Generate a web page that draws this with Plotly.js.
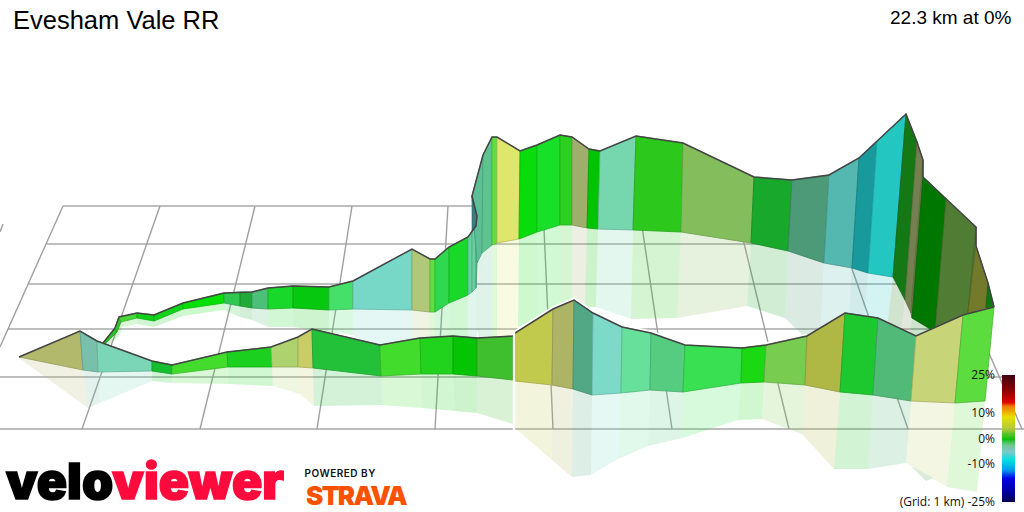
<!DOCTYPE html>
<html><head><meta charset="utf-8">
<script src="https://cdn.plot.ly/plotly-3.0.1.min.js"></script>
<style>html,body{margin:0;padding:0;background:#fff}#c{width:1024px;height:512px}</style></head>
<body><div id="c"></div>
<script>
// Projected route: ridge (elevation), base (ground) and mirror (faded reflection)
const backRidgeX=[103,115,119,137,154,183,224,240,252,268,293,329,353,412,430,435,449,468,472,476,477,472,483,492,497,520,537,560,572,589,600,636,683,754,792,829,859,877,906,917,923,923,946,976,976,988,994];
const backRidgeY=[343,328,317,313,315,303,293,292,292,288,286,287,281,249,259,259,247,237,231,226,216,196,155,137,137,151,145,135,137,149,151,136,143,177,180,175,158,141,114,142,160,177,199,227,246,283,307];
const backBaseX=[105,117,121,137,154,183,224,240,252,268,293,329,353,412,430,435,449,468,472,476,477,477,482,492,497,519,537,560,572,587,598,633,681,751,788,824,852,868,893,905,911,912,935,968,968,986,994];
const backBaseY=[344,332,322,318,321,309,303,306,308,309,308,310,309,310,312,312,303,295,292,288,263,263,253,245,243,239,232,225,225,228,229,230,232,243,251,263,268,273,277,300,313,318,332,313,313,308,307];
const backMirrorX=[108,120,122,137,154,183,224,240,252,268,293,329,353,412,430,434,448,467,472,476,477,477,480,492,497,518,537,560,572,585,596,631,677,747,785,819,845,859,880,893,899,901,924,960,960,984,994];
const backMirrorY=[346,335,327,324,327,316,310,317,320,327,327,332,335,368,365,364,358,352,350,345,330,330,345,350,349,327,319,315,313,307,307,319,318,306,318,351,378,385,388,390,390,390,390,390,390,333,307];
const backColors=['#2cc028','#30c828','#46d838','#10d018','#10d418','#04e004','#2ec850','#20a838','#4cc078','#18d82a','#06c80e','#44e06a','#78d8c8','#b0c878','#60e040','#30d850','#18d828','#66d0a0','#66d0a0','#5cbf98','#5cbf98','#5cbf98','#5ec48e','#60e040','#dee66e','#08dc0a','#18e028','#2cd020','#a0ae6c','#00c400','#76d6ae','#2cc81c','#84be5c','#18a82c','#4c9a78','#54b8b0','#189a9c','#24c6c2','#147814','#748050','#748050','#007800','#507c34','#507c34','#747a2c','#107810'];
const frontRidgeX=[19,80,97,152,172,227,271,298,312,380,420,453,477,513,515,553,574,593,622,651,685,742,766,807,845,878,916,963,994];
const frontRidgeY=[357,331,341,361,365,352,347,337,329,345,338,336,338,336,333,309,300,313,327,333,345,348,345,336,313,318,336,315,307];
const frontBaseX=[19,83,98,152,172,228,272,298,313,381,421,453,477,513,515,552,573,592,621,650,683,741,764,805,840,873,911,955,985];
const frontBaseY=[357,370,372,371,374,367,367,367,368,376,374,374,376,380,381,385,389,395,393,390,392,383,382,385,392,395,401,403,401];
const frontMirrorX=[19,88,100,152,172,229,273,300,314,382,422,455,477,513,515,552,572,591,618,648,682,738,762,802,834,868,906,947,977];
const frontMirrorY=[358,408,403,381,383,384,386,394,406,405,408,411,413,424,428,460,477,475,459,446,438,420,419,434,469,469,463,487,492];
const frontColors=['#b3b96c','#78c0ac','#7ad6b6','#14be2d','#43dc2c','#1bd01f','#aed26e','#c8cd67','#23c03a','#42dc2c','#22d31e','#04c404','#40bf2e','#40bf2e','#c2ca4e','#adb466','#52a884','#7ddac8','#66e09a','#55cc80','#38e052','#1ad812','#78cc50','#b0b845','#1cc82e','#52ba78','#c8d478','#5cdc3e'];
const foldX=[472,477,476,472];
const foldY=[196,216,226,231];
const foldColor='#3a7f80';
const tipX=[911,926,933];
const tipY=[466,481,478];
const tipColor='#007800';
// Ground grid
const gridRows=[206,244,284,329,377];
const gridRowStart=[63,47,28,8,0];
const gridRowEnd=[925,941,958,980,1002];
const groundEdgeY=429;
const gridTopX=[63,160,255,352,448,543,639,735,830,925];
const gridEndX=[0,82,200,317,435,553,672,789,908,1022];
const gridEndY=[347,429,429,429,429,429,429,429,429,429];
const stubX=[3,0], stubY=[224,232];
// Gradient key
const gradeLevels=[-25,-24,-23,-22,-21,-20,-19,-18,-17,-16,-15,-14,-13,-12,-11,-10,-9,-8,-7,-6,-5,-4,-3,-2,-1,0,1,2,3,4,5,6,7,8,9,10,11,12,13,14,15,16,17,18,19,20,21,22,23,24,25];
const gradeTicks=[25,10,0,-10,-25];
const gradeLabels=['25%','10%','0%','-10%','(Grid: 1 km) -25%'];
const gradeScale=[[0,'#000050'],[0.086,'#0000a0'],[0.19,'#0000e8'],[0.26,'#00a0f0'],[0.334,'#00e0e0'],[0.40,'#80c8c8'],[0.452,'#70c890'],[0.5,'#10c010'],[0.58,'#b0c840'],[0.674,'#e8e000'],[0.752,'#f08000'],[0.79,'#e00000'],[0.856,'#a00000'],[1,'#400010']];
const titleText='Evesham Vale RR';
const statText='22.3 km at 0%';

const rgb=h=>[1,3,5].map(i=>parseInt(h.substr(i,2),16));
const alpha=(h,a)=>`rgba(${rgb(h).join(',')},${a})`;
const dark=(h,f)=>`rgb(${rgb(h).map(v=>Math.round(v*f)).join(',')})`;
const base={type:'scatter',mode:'lines',hoverinfo:'skip',showlegend:false,xaxis:'x',yaxis:'y'};
const traces=[];
function line(x,y,color,width){traces.push({...base,x,y,line:{color,width}});}
function poly(x,y,fill,lc,lw){traces.push({...base,x,y,fill:'toself',fillcolor:fill,line:{color:lc,width:lw}});}
// grid
gridRows.forEach((r,i)=>line([gridRowStart[i],gridRowEnd[i]],[r,r],'#a8a8a8',1.4));
line([0,1024],[groundEdgeY,groundEdgeY],'#bcbcbc',2);
gridTopX.forEach((t,i)=>line([t,gridEndX[i]],[206,gridEndY[i]],'#a0a0a0',1.4));
line(stubX,stubY,'#a0a0a0',1.4);
function mirrors(bx,by,mx,my,cols){cols.forEach((c,i)=>poly([bx[i],bx[i+1],mx[i+1],mx[i],bx[i]],[by[i],by[i+1],my[i+1],my[i],by[i]],alpha(c,0.2),'rgba(0,0,0,0)',0));}
function walls(rx,ry,bx,by,cols){cols.forEach((c,i)=>poly([rx[i],rx[i+1],bx[i+1],bx[i],rx[i]],[ry[i],ry[i+1],by[i+1],by[i],ry[i]],c,dark(c,0.82),0.8));}
mirrors(backBaseX,backBaseY,backMirrorX,backMirrorY,backColors);
poly([...tipX,tipX[0]],[...tipY,tipY[0]],alpha(tipColor,0.15),'rgba(0,0,0,0)',0);
walls(backRidgeX,backRidgeY,backBaseX,backBaseY,backColors);
poly([...foldX,foldX[0]],[...foldY,foldY[0]],foldColor,dark(foldColor,0.8),0.6);
line(backRidgeX,backRidgeY,'#444444',1.5);
mirrors(frontBaseX,frontBaseY,frontMirrorX,frontMirrorY,frontColors);
// white halo over the far wall's reflection
const hx=[],hy=[];frontRidgeX.forEach((x,i)=>{if(x>=515&&x<=807){hx.push(x);hy.push(frontRidgeY[i]);}});
line(hx,hy,'#ffffff',5);
walls(frontRidgeX,frontRidgeY,frontBaseX,frontBaseY,frontColors);
line(frontRidgeX,frontRidgeY,'#444444',1.5);
line([514,514],[331,430],'#ffffff',2.4);
// gradient key
traces.push({type:'heatmap',x:[0],y:gradeLevels,z:gradeLevels.map(v=>[v]),zmin:-25,zmax:25,colorscale:gradeScale,showscale:false,hoverinfo:'skip',xaxis:'x2',yaxis:'y2',zsmooth:'best'});

const hidden={visible:false,fixedrange:true,showgrid:false,zeroline:false};
const layout={width:1024,height:512,margin:{l:0,r:0,t:0,b:0,pad:0},paper_bgcolor:'#fff',plot_bgcolor:'rgba(0,0,0,0)',showlegend:false,
 title:{text:titleText,x:13/1024,xanchor:'left',y:1-20/512,yanchor:'middle',font:{family:'Liberation Sans',size:25.5,color:'#000'}},
 xaxis:{...hidden,range:[0,1024],domain:[0,1]},
 yaxis:{...hidden,range:[512,0],domain:[0,1]},
 xaxis2:{...hidden,domain:[1002/1024,1015/1024],anchor:'y2',range:[-0.5,0.5]},
 yaxis2:{domain:[10/512,137/512],anchor:'x2',side:'left',range:[-25,25],tickmode:'array',tickvals:gradeTicks,ticktext:gradeLabels,ticks:'',showgrid:false,zeroline:false,showline:false,fixedrange:true,ticklabelstandoff:6,tickfont:{family:'Open Sans',size:12,color:'#111'}},
 annotations:[
  {text:statText,xref:'x',yref:'y',x:1014,y:17,xanchor:'right',yanchor:'middle',showarrow:false,font:{family:'Liberation Sans',size:19,color:'#000'}},
  {text:'velo<span style="color:#ff0a3c">viewer</span>',xref:'x',yref:'y',x:145,y:481,xanchor:'center',yanchor:'middle',showarrow:false,font:{family:'Inter',size:50,weight:900,color:'#000'}},
  {text:'POWERED BY',xref:'x',yref:'y',x:340,y:473,xanchor:'center',yanchor:'middle',showarrow:false,font:{family:'Inter',size:10,weight:600,color:'#111'}},
  {text:'STRAVA',xref:'x',yref:'y',x:356,y:495,xanchor:'center',yanchor:'middle',showarrow:false,font:{family:'Inter',size:26,weight:900,color:'#fc5200'}}
 ]};
Plotly.newPlot('c',traces,layout,{displayModeBar:false,staticPlot:true}).then(()=>{
 document.querySelectorAll('.annotation-text').forEach(t=>{const s=t.textContent;
  if(s.startsWith('velo')){t.setAttribute('stroke','#000');t.setAttribute('stroke-width','1.6');
    t.querySelectorAll('tspan').forEach(p=>{if(p.textContent.startsWith('viewer')){p.setAttribute('stroke','#ff0a3c');}});}
  if(s.startsWith('POWERED'))t.style.letterSpacing='0.5px';
  if(s.startsWith('STRAVA'))t.style.letterSpacing='-1.7px';});
});
</script></body></html>
